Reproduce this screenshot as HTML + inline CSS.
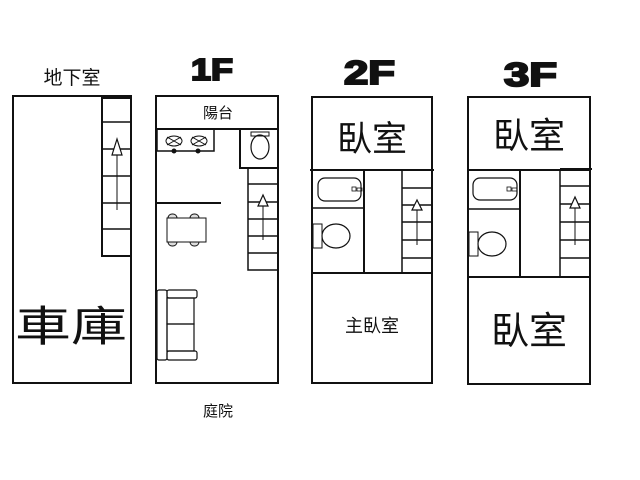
<!DOCTYPE html>
<html><head><meta charset="utf-8"><style>
html,body{margin:0;padding:0;background:#fff;width:640px;height:480px;overflow:hidden}
svg{display:block}
text{font-family:"Liberation Sans","Noto Sans CJK TC",sans-serif;fill:#111}
</style></head><body>
<svg width="640" height="480" viewBox="0 0 640 480" xmlns="http://www.w3.org/2000/svg">
<g stroke="#111" fill="none" stroke-width="2">
<rect x="13" y="96" width="118" height="287"/>
<line x1="102" y1="97" x2="132" y2="97" stroke-width="4"/>
<polyline points="102,97 102,256 131,256"/>
<g stroke-width="1.5">
<line x1="102" y1="122" x2="131" y2="122"/><line x1="102" y1="149" x2="131" y2="149"/>
<line x1="102" y1="176" x2="131" y2="176"/><line x1="102" y1="203" x2="131" y2="203"/>
<line x1="102" y1="229" x2="131" y2="229"/>
</g>
<line x1="117" y1="150" x2="117" y2="210" stroke-width="1"/>
<polygon points="117,139 112,155 122,155" stroke-width="1.2" fill="#fff"/>
<rect x="156" y="96" width="122" height="287"/>
<line x1="156" y1="129" x2="278" y2="129"/>
<rect x="157" y="129" width="57" height="22" stroke-width="1.5"/>
<g stroke-width="1">
<ellipse cx="174" cy="141" rx="8" ry="5"/><line x1="167" y1="137" x2="181" y2="145"/><line x1="167" y1="145" x2="181" y2="137"/>
<ellipse cx="199" cy="141" rx="8" ry="5"/><line x1="192" y1="137" x2="206" y2="145"/><line x1="192" y1="145" x2="206" y2="137"/>
</g>
<circle cx="174" cy="151" r="1.5" fill="#111"/><circle cx="198" cy="151" r="1.5" fill="#111"/>
<polyline points="240,129 240,168 278,168"/>
<rect x="251" y="132" width="18" height="4" stroke-width="1"/>
<ellipse cx="260" cy="147" rx="9" ry="12" stroke-width="1.2"/>
<polyline points="248,168 248,270 278,270" stroke-width="1.5"/>
<g stroke-width="1.5">
<line x1="248" y1="184" x2="278" y2="184"/><line x1="248" y1="202" x2="278" y2="202"/>
<line x1="248" y1="219" x2="278" y2="219"/><line x1="248" y1="236" x2="278" y2="236"/>
<line x1="248" y1="253" x2="278" y2="253"/>
</g>
<line x1="263" y1="205" x2="263" y2="240" stroke-width="1"/>
<polygon points="263,195 258,206 268,206" stroke-width="1.2" fill="#fff"/>
<line x1="157" y1="203" x2="221" y2="203"/>
<g stroke-width="1">
<rect x="168" y="214" width="9" height="8" rx="4" fill="#ddd"/><rect x="190" y="214" width="9" height="8" rx="4" fill="#ddd"/>
<rect x="168" y="238" width="9" height="8" rx="4" fill="#ddd"/><rect x="190" y="238" width="9" height="8" rx="4" fill="#ddd"/>
<rect x="167" y="218" width="39" height="24" fill="#fff"/>
</g>
<g stroke-width="1.2">
<rect x="157" y="290" width="10" height="70" rx="2"/>
<rect x="167" y="290" width="30" height="8" rx="2"/>
<rect x="167" y="351" width="30" height="9" rx="2"/>
<rect x="167" y="298" width="27" height="26"/>
<rect x="167" y="324" width="27" height="27"/>
</g>
<rect x="312" y="97" width="120" height="286"/>
<line x1="310" y1="170" x2="434" y2="170"/>
<line x1="312" y1="273" x2="432" y2="273"/>
<line x1="364" y1="170" x2="364" y2="273"/>
<line x1="402" y1="170" x2="402" y2="273" stroke-width="1.5"/>
<line x1="313" y1="208" x2="364" y2="208" stroke-width="1.5"/>
<rect x="318" y="178" width="43" height="23" rx="7" stroke-width="1.2"/>
<rect x="352" y="187" width="4" height="4" stroke-width="0.8"/><rect x="357" y="188" width="5" height="3" stroke-width="0.8"/>
<rect x="313" y="224" width="9" height="24" stroke-width="1"/>
<ellipse cx="336" cy="236" rx="14" ry="12" stroke-width="1.2"/>
<g stroke-width="1.5">
<line x1="402" y1="188" x2="432" y2="188"/><line x1="402" y1="205" x2="432" y2="205"/>
<line x1="402" y1="222" x2="432" y2="222"/><line x1="402" y1="240" x2="432" y2="240"/>
<line x1="402" y1="258" x2="432" y2="258"/>
</g>
<line x1="417" y1="210" x2="417" y2="245" stroke-width="1"/>
<polygon points="417,200 412,210 422,210" stroke-width="1.2" fill="#fff"/>
<rect x="468" y="97" width="122" height="287"/>
<line x1="468" y1="170" x2="590" y2="170"/>
<line x1="560" y1="169" x2="592" y2="169"/>
<line x1="468" y1="277" x2="590" y2="277"/>
<line x1="520" y1="170" x2="520" y2="277"/>
<line x1="560" y1="169" x2="560" y2="277" stroke-width="1.5"/>
<line x1="469" y1="209" x2="520" y2="209" stroke-width="1.5"/>
<rect x="473" y="178" width="44" height="22" rx="7" stroke-width="1.2"/>
<rect x="507" y="187" width="4" height="4" stroke-width="0.8"/><rect x="512" y="188" width="5" height="3" stroke-width="0.8"/>
<rect x="469" y="232" width="9" height="24" stroke-width="1"/>
<ellipse cx="492" cy="244" rx="14" ry="12" stroke-width="1.2"/>
<g stroke-width="1.5">
<line x1="560" y1="186" x2="590" y2="186"/><line x1="560" y1="204" x2="590" y2="204"/>
<line x1="560" y1="222" x2="590" y2="222"/><line x1="560" y1="240" x2="590" y2="240"/>
<line x1="560" y1="258" x2="590" y2="258"/>
</g>
<line x1="575" y1="208" x2="575" y2="245" stroke-width="1"/>
<polygon points="575,197 570,208 580,208" stroke-width="1.2" fill="#fff"/>
</g>
<text x="72" y="84" font-size="19" text-anchor="middle">地下室</text>
<g stroke="#111" stroke-width="2" font-weight="bold">
<text x="191" y="80" font-size="31" textLength="42" lengthAdjust="spacingAndGlyphs">1F</text>
<text x="344" y="84" font-size="33" textLength="51" lengthAdjust="spacingAndGlyphs">2F</text>
<text x="504" y="86" font-size="33" textLength="53" lengthAdjust="spacingAndGlyphs">3F</text>
</g>
<text x="71" y="341" font-size="42" text-anchor="middle" textLength="112" lengthAdjust="spacingAndGlyphs">車庫</text>
<text x="218" y="118" font-size="15" text-anchor="middle">陽台</text>
<text x="218" y="416" font-size="15" text-anchor="middle">庭院</text>
<text x="372" y="151" font-size="35" text-anchor="middle">臥室</text>
<text x="372" y="332" font-size="18" text-anchor="middle">主臥室</text>
<text x="529" y="148" font-size="36" text-anchor="middle">臥室</text>
<text x="529" y="344" font-size="38" text-anchor="middle">臥室</text>
</svg>
</body></html>
